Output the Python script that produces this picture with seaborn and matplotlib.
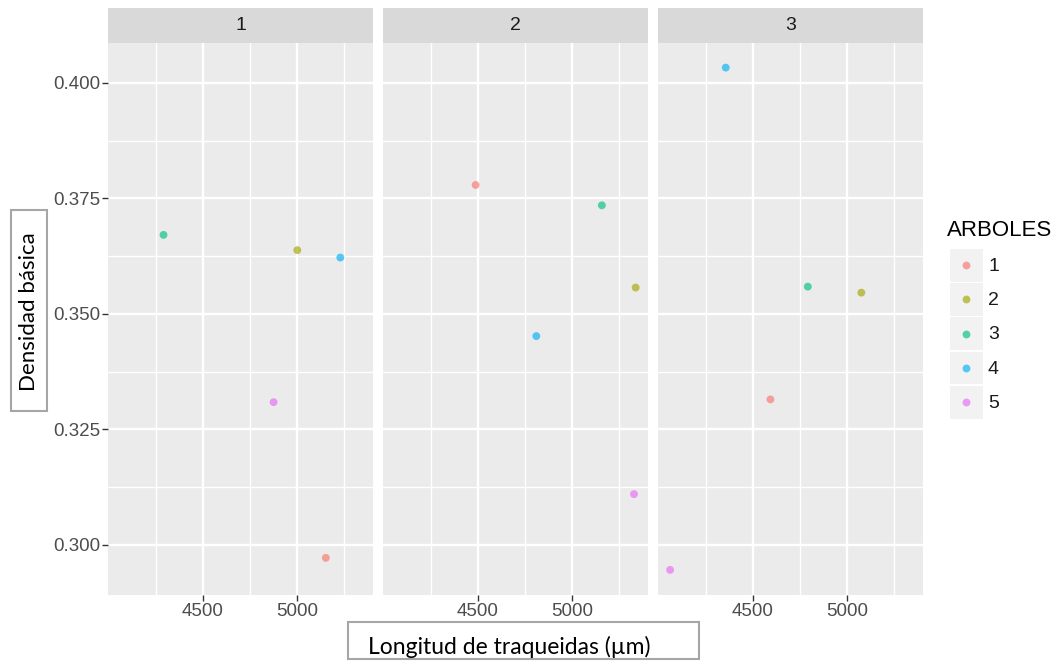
import matplotlib
matplotlib.use("Agg")
import matplotlib.pyplot as plt
import seaborn as sns
import pandas as pd
from matplotlib.patches import Rectangle
from matplotlib.ticker import FixedLocator

# ---------------- data ----------------
paneles = [1] * 5 + [2] * 5 + [3] * 5
arboles = ["1", "2", "3", "4", "5"] * 3
longitud = [5154, 5002, 4290, 5231, 4876,
            4488, 5340, 5160, 4811, 5331,
            4594, 5078, 4793, 4356, 4060]
densidad = [0.2972, 0.3638, 0.3671, 0.3622, 0.3309,
            0.3779, 0.3557, 0.3735, 0.3452, 0.3110,
            0.3315, 0.3546, 0.3559, 0.4033, 0.2946]
niveles = ["1", "2", "3", "4", "5"]
colores = ["#F8766D", "#A3A500", "#00BF7D", "#00B0F6", "#E76BF3"]
x_major = [4500, 5000]
x_minor = [4250, 4750, 5250]
y_major = [0.300, 0.325, 0.350, 0.375, 0.400]
y_minor = [0.3125, 0.3375, 0.3625, 0.3875]
y_labels = ["0.300", "0.325", "0.350", "0.375", "0.400"]

df = pd.DataFrame({"panel": paneles, "ARBOLES": arboles,
                   "longitud": longitud, "densidad": densidad})

W, H = 1059, 666
sns.set_theme(style="white")
plt.rcParams["font.family"] = ["Liberation Sans", "DejaVu Sans"]

fig = plt.figure(figsize=(W / 100, H / 100), dpi=100)
fig.patch.set_facecolor("white")


def rect(x0, y0, x1, y1):
    return [x0 / W, 1 - y1 / H, (x1 - x0) / W, (y1 - y0) / H]


xr = max(longitud) - min(longitud)
xlim = (min(longitud) - 0.05 * xr, max(longitud) + 0.05 * xr)
yr = max(densidad) - min(densidad)
ylim = (min(densidad) - 0.05 * yr, max(densidad) + 0.05 * yr)

lefts = [108.3, 383.2, 658.1]
pw = 264.5
ptop, pbot = 42.5, 595.0
stop = 7.6
palette = dict(zip(niveles, colores))

for i, p in enumerate([1, 2, 3]):
    x0 = lefts[i]
    ax = fig.add_axes(rect(x0, ptop, x0 + pw, pbot))
    ax.set_facecolor("#EBEBEB")
    for s in ax.spines.values():
        s.set_visible(False)
    ax.set_xlim(xlim)
    ax.set_ylim(ylim)
    for v in x_minor:
        ax.axvline(v, color="white", lw=1.0, zorder=0)
    for v in y_minor:
        ax.axhline(v, color="white", lw=1.0, zorder=0)
    for v in x_major:
        ax.axvline(v, color="white", lw=1.7, zorder=0)
    for v in y_major:
        ax.axhline(v, color="white", lw=1.7, zorder=0)
    sub = df[df["panel"] == p]
    sns.scatterplot(data=sub, x="longitud", y="densidad", hue="ARBOLES",
                    hue_order=niveles, palette=palette, ax=ax, s=32,
                    alpha=0.65, linewidth=0, legend=False, zorder=3)
    ax.set_xlabel("")
    ax.set_ylabel("")
    ax.xaxis.set_major_locator(FixedLocator(x_major))
    ax.set_xticklabels([str(v) for v in x_major])
    ax.tick_params(axis="x", length=4, width=1.0, color="#333333",
                   labelsize=13.5, labelcolor="#4D4D4D", pad=2, bottom=True)
    if i == 0:
        ax.yaxis.set_major_locator(FixedLocator(y_major))
        ax.set_yticklabels(y_labels)
        ax.tick_params(axis="y", length=4, width=1.0, color="#333333",
                       labelsize=13.5, labelcolor="#4D4D4D", pad=2, left=True)
    else:
        ax.set_yticks([])
    ax.grid(False)

    sax = fig.add_axes(rect(x0, stop, x0 + pw, ptop))
    sax.set_facecolor("#D9D9D9")
    for s in sax.spines.values():
        s.set_visible(False)
    sax.set_xticks([])
    sax.set_yticks([])
    sax.text(0.5, 0.5, str(p), ha="center", va="center", fontsize=14,
             color="#1A1A1A", transform=sax.transAxes)

# ---------------- legend ----------------
lax = fig.add_axes([0, 0, 1, 1], facecolor="none")
lax.set_xlim(0, W)
lax.set_ylim(H, 0)
lax.axis("off")
lax.text(947, 231, "ARBOLES", fontsize=16, color="black", ha="left",
         va="center")
key_top = 248.0
key_h = 34.3
for k, (lev, col) in enumerate(zip(niveles, colores)):
    yt = key_top + k * key_h
    lax.add_patch(Rectangle((949.5, yt + 0.8), 33, key_h - 1.6,
                            facecolor="#F2F2F2", edgecolor="none"))
    lax.scatter([966], [yt + key_h / 2], s=32, color=col, alpha=0.65,
                linewidth=0)
    lax.text(988, yt + key_h / 2 + 1, lev, fontsize=14, color="#1A1A1A",
             ha="left", va="center")

# ---------------- axis-title boxes ----------------
lax.add_patch(Rectangle((11, 210), 35.5, 201, facecolor="white",
                        edgecolor="#A6A6A6", lw=1.5))
lax.text(29, 312, "Densidad básica", rotation=90, ha="center", va="center",
         fontsize=16, color="black", family=["Lato", "DejaVu Sans"])
lax.add_patch(Rectangle((348, 621.5), 351, 37, facecolor="white",
                        edgecolor="#A6A6A6", lw=1.5))
lax.text(509, 647, "Longitud de traqueidas (µm)", ha="center",
         va="center", fontsize=16.5, color="black",
         family=["Lato", "DejaVu Sans"])

fig.savefig("out.png", dpi=100, facecolor="white")
